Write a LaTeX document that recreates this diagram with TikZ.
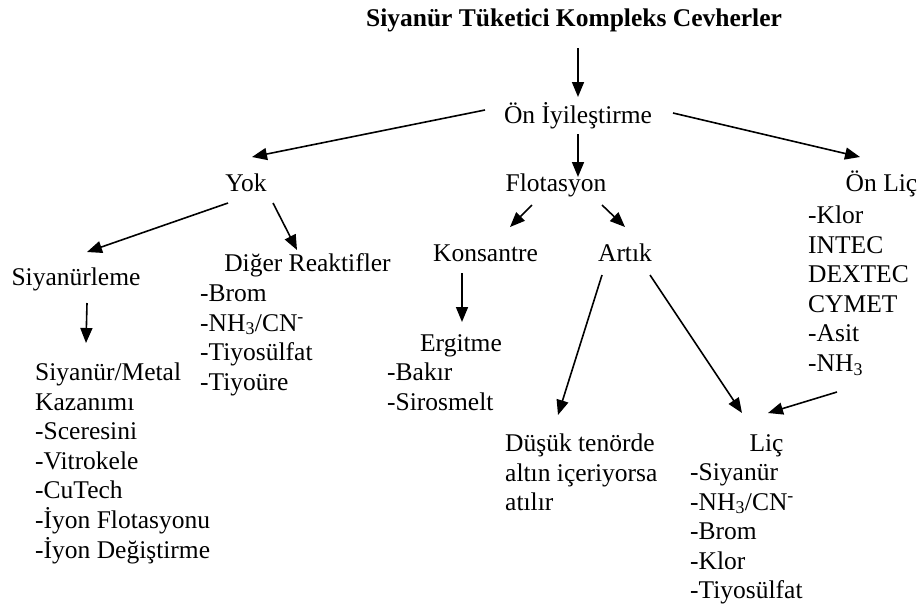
\documentclass[tikz,border=0pt]{standalone}
\usepackage{fontspec}
\setmainfont{Liberation Serif}
\usetikzlibrary{arrows.meta}

\begin{document}
\begin{tikzpicture}[x=1pt, y=-1pt,
  every node/.style={font=\fontsize{25.5}{29.6}\selectfont, inner sep=0pt},
  head/.style={text height=18pt, text depth=6pt},
  list/.style={anchor=north west, align=left},
  arr/.style={-{Triangle[length=15pt,width=12pt]}, line width=1.6pt}]
  \useasboundingbox (0,0) rectangle (924,606);
  \node[head,font=\fontsize{25.5}{29.6}\selectfont\bfseries] (title) at (574,20.5) {Siyanür Tüketici Kompleks Cevherler};
  \node[head] (pre) at (578,117.5) {Ön İyileştirme};
  \node[head] (yok) at (246,185.5) {Yok};
  \node[head] (flot) at (556,185.5) {Flotasyon};
  \node[head] (onlic) at (881.5,185.5) {Ön Liç};
  \node[head] (siyle) at (76,279.5) {Siyanürleme};
  \node[head] (diger) at (307.5,265.5) {Diğer Reaktifler};
  \node[head] (kons) at (485.5,255.5) {Konsantre};
  \node[head] (artik) at (625,255.5) {Artık};
  \node[head] (ergit) at (461,345.5) {Ergitme};
  \node[head] (lic) at (766.5,445.5) {Liç};
  % lists under the headings
  \node[list] (digerlist) at (200,280.6) {\strut -Brom\\-NH\textsubscript{3}/CN\textsuperscript{-}\\-Tiyosülfat\\-Tiyoüre};
  \node[list] (onliclist) at (808,202.6) {\strut -Klor\\INTEC\\DEXTEC\\CYMET\\-Asit\\-NH\textsubscript{3}};
  \node[list] (ergitlist) at (387,359.6) {\strut -Bakır\\-Sirosmelt};
  \node[list] (liclist) at (690,459.6) {\strut -Siyanür\\-NH\textsubscript{3}/CN\textsuperscript{-}\\-Brom\\-Klor\\-Tiyosülfat};
  \node[list] (kazan) at (35,359.6) {\strut Siyanür/Metal\\Kazanımı\\-Sceresini\\-Vitrokele\\-CuTech\\-İyon Flotasyonu\\-İyon Değiştirme};
  \node[list] (dusuk) at (505,430.6) {\strut Düşük tenörde\\altın içeriyorsa\\atılır};
  \draw[arr] ([shift={(4,27.5)}]title.center) -- ([shift={(0,-20.5)}]pre.center);
  \draw[arr] ([shift={(-93,-7.5)}]pre.center) -- ([shift={(6,-28.5)}]yok.center);
  \draw[arr] ([shift={(0,16.5)}]pre.center) -- ([shift={(22,-8.5)}]flot.center);
  \draw[arr] ([shift={(95,-4.5)}]pre.center) -- ([shift={(-21.5,-28.5)}]onlic.center);
  \draw[arr] ([shift={(-18,17.5)}]yok.center) -- ([shift={(11,-27.5)}]siyle.center);
  \draw[arr] ([shift={(27,17.5)}]yok.center) -- ([shift={(-10.5,-15.5)}]diger.center);
  \draw[arr] ([shift={(11,23.5)}]siyle.center) -- ([shift={(51,-16.6)}]kazan.north west);
  \draw[arr] ([shift={(-24,19.5)}]flot.center) -- ([shift={(24.5,-28.5)}]kons.center);
  \draw[arr] ([shift={(46,19.5)}]flot.center) -- ([shift={(0,-28.5)}]artik.center);
  \draw[arr] ([shift={(-23.5,17.5)}]kons.center) -- ([shift={(1,-23.5)}]ergit.center);
  \draw[arr] ([shift={(-23,19.5)}]artik.center) -- ([shift={(53,-15.6)}]dusuk.north west);
  \draw[arr] ([shift={(25,19.5)}]artik.center) -- ([shift={(-24.5,-32.5)}]lic.center);
  \draw[arr] ([shift={(29,189.4)}]onliclist.north west) -- ([shift={(1.5,-32.5)}]lic.center);
\end{tikzpicture}
\end{document}
